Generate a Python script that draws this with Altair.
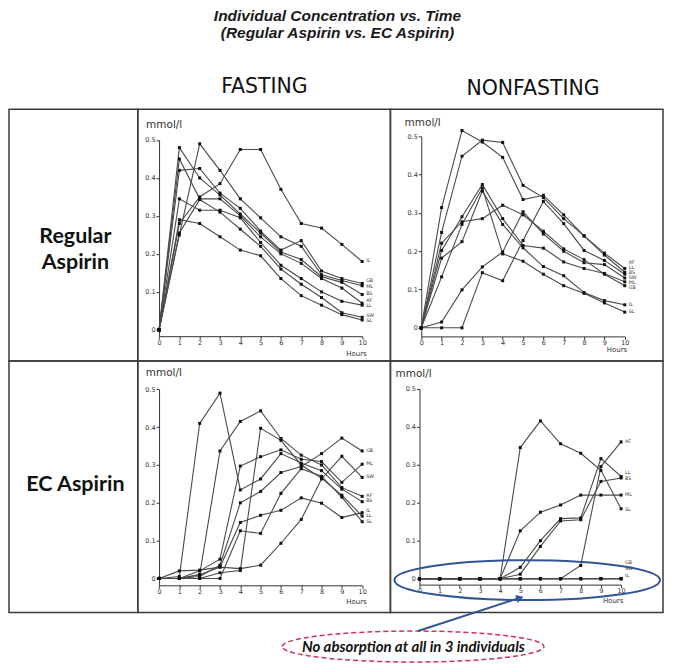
import altair as alt
import pandas as pd

HOURS = list(range(11))
TITLE_LINES = ["Individual Concentration vs. Time", "(Regular Aspirin vs. EC Aspirin)"]
COLUMN_HEADERS = ["FASTING", "NONFASTING"]
ROW_HEADERS = ["Regular\nAspirin", "EC Aspirin"]
Y_TICKS = [0, 0.1, 0.2, 0.3, 0.4, 0.5]
Y_TITLE = "mmol/l"
X_TITLE = "Hours"
NOTE = "No absorption at all in 3 individuals"

# Regular aspirin, fasting (mmol/l at hours 0..10)
REG_FAST = {
    "IL": [0, .28, .35, .385, .475, .475, .37, .28, .268, .225, .18],
    "GB": [0, .42, .425, .36, .32, .26, .21, .235, .155, .135, .122],
    "ML": [0, .25, .49, .42, .345, .295, .245, .22, .145, .13, .116],
    "BS": [0, .48, .40, .355, .305, .255, .205, .185, .14, .125, .093],
    "AF": [0, .45, .345, .345, .30, .245, .20, .175, .135, .11, .07],
    "LL": [0, .345, .315, .315, .295, .23, .17, .135, .10, .075, .065],
    "SW": [0, .255, .343, .31, .265, .22, .16, .12, .085, .045, .033],
    "SL": [0, .29, .28, .245, .21, .195, .135, .09, .065, .04, .026],
}
REG_FAST_LABELS = {"IL": .18, "GB": .128, "ML": .114, "BS": .094, "AF": .077,
                   "LL": .062, "SW": .037, "SL": .023}

# Regular aspirin, nonfasting
REG_NONFAST = {
    "AF": [0, .314, .515, .485, .445, .335, .346, .295, .24, .195, .155],
    "LL": [0, .249, .448, .49, .484, .372, .34, .285, .24, .19, .145],
    "BS": [0, 0, 0, .144, .123, .228, .33, .272, .202, .176, .14],
    "SW": [0, .015, .099, .159, .198, .303, .245, .20, .17, .165, .13],
    "ML": [0, .202, .29, .374, .285, .215, .208, .172, .155, .142, .12],
    "GB": [0, .221, .277, .285, .32, .295, .252, .206, .178, .14, .11],
    "IL": [0, .182, .225, .357, .27, .209, .16, .136, .092, .071, .06],
    "SL": [0, .133, .27, .365, .193, .174, .14, .11, .09, .065, .041],
}
REG_NONFAST_LABELS = {"AF": .170, "LL": .157, "BS": .144, "SW": .131, "ML": .118,
                      "GB": .105, "IL": .06, "SL": .04}

# Enteric-coated aspirin, fasting
EC_FAST = {
    "BS": [0, .005, .41, .49, .234, .263, .33, .305, .285, .236, .203],
    "AF": [0, 0, .01, .337, .415, .443, .37, .326, .30, .24, .217],
    "ML": [0, 0, .02, .051, .297, .322, .34, .315, .309, .254, .302],
    "GB": [0, 0, .005, .035, .20, .23, .28, .296, .33, .371, .337],
    "IL": [0, 0, .01, .03, .148, .167, .18, .213, .199, .161, .174],
    "LL": [0, 0, 0, .015, .021, .397, .365, .30, .265, .22, .165],
    "SL": [0, 0, 0, 0, .126, .119, .225, .29, .27, .215, .15],
    "SW": [0, .02, .022, .03, .026, .035, .093, .156, .263, .323, .267],
}
EC_FAST_LABELS = {"GB": .337, "ML": .302, "SW": .267, "AF": .219, "BS": .204,
                  "IL": .179, "LL": .164, "SL": .149}

# Enteric-coated aspirin, nonfasting
EC_NONFAST = {
    "AF": [0, 0, 0, 0, 0, 0, 0, 0, .035, .295, .36],
    "LL": [0, 0, 0, 0, 0, .03, .10, .158, .16, .316, .269],
    "BS": [0, 0, 0, 0, 0, .012, .085, .152, .155, .256, .265],
    "ML": [0, 0, 0, 0, 0, .126, .175, .194, .22, .22, .22],
    "SL": [0, 0, 0, 0, 0, .345, .415, .355, .33, .285, .184],
    "GB": [0, 0, 0, 0, 0, 0, 0, 0, 0, 0, 0],
    "SW": [0, 0, 0, 0, 0, 0, 0, 0, 0, 0, 0],
    "IL": [0, 0, 0, 0, 0, 0, 0, 0, 0, 0, 0],
}
EC_NONFAST_LABELS = {"AF": .36, "LL": .277, "BS": .261, "ML": .22, "SL": .182,
                     "GB": .042, "SW": .025, "IL": .007}

INK = "#333333"
BORDER = "#3a3a3a"
LINE_C = "#4a4a4a"
BLUE = "#2f5597"
RED = "#cc3355"
SMALL_FONT = "DejaVu Sans"

LABEL_W, FAST_W, NONFAST_W = 129, 253, 273
ROW_H = 252
HEADER_H, FOOTER_H = 98, 52
NO_STROKE = alt.ViewBackground(stroke="transparent")
CELL = alt.ViewBackground(stroke=BORDER, strokeWidth=1.5)


def ellipse_path(r):
    k = 0.5523
    return (f"M -1 0 C -1 {-k*r:.4f} {-k:.4f} {-r:.4f} 0 {-r:.4f} "
            f"C {k:.4f} {-r:.4f} 1 {-k*r:.4f} 1 0 "
            f"C 1 {k*r:.4f} {k:.4f} {r:.4f} 0 {r:.4f} "
            f"C {-k:.4f} {r:.4f} -1 {k*r:.4f} -1 0 Z")


def long_df(series):
    rows = []
    for name, vals in series.items():
        for h, v in zip(HOURS, vals):
            rows.append({"subject": name, "hour": h, "conc": v})
    return pd.DataFrame(rows)


def label_df(labels):
    return pd.DataFrame({"subject": list(labels.keys()),
                         "hour": [HOURS[-1]] * len(labels),
                         "conc": list(labels.values())})


def one(text_value):
    return pd.DataFrame({"t": [text_value]})


def text_layer(t, x, y, **kw):
    return alt.Chart(one(t)).mark_text(**kw).encode(
        text="t:N", x=alt.value(x), y=alt.value(y))


def blank(w, h):
    return text_layer(" ", 1, 1, fontSize=1).properties(width=w, height=h, view=NO_STROKE)


def panel(series, labels, g, extra=()):
    ymin = -(g["xax"] - g["y0"]) * 0.5 / (g["y0"] - g["y05"])
    xs = alt.Scale(domain=[0, 10], range=[g["x0"], g["x10"]], nice=False, zero=False)
    ys = alt.Scale(domain=[ymin, 0.5], range=[g["xax"], g["y05"]], nice=False, zero=False)
    xaxis = alt.Axis(values=HOURS, offset=g["xax"] - ROW_H, grid=False,
                     domainColor=INK, domainWidth=1, tickColor=INK, tickSize=3,
                     labelFont=SMALL_FONT, labelFontSize=6.5, labelColor=INK,
                     labelPadding=0, labelFlush=False, labelOverlap=False,
                     title=X_TITLE, titleFont=SMALL_FONT, titleFontSize=7,
                     titleFontWeight="normal", titleColor=INK,
                     titleX=g["hx"], titleY=g["hy"] - g["xax"],
                     titleAlign="center", titleBaseline="middle")
    yaxis = alt.Axis(values=Y_TICKS, offset=-g["x0"], grid=False,
                     domainColor=INK, domainWidth=1, tickColor=INK, tickSize=3,
                     labelFont=SMALL_FONT, labelFontSize=6.5, labelColor=INK,
                     labelPadding=1, labelFlush=False, labelOverlap=False,
                     labelExpr="datum.value == 0 ? '0' : format(datum.value, '.1f')",
                     title=Y_TITLE, titleFont=SMALL_FONT, titleFontSize=10.5,
                     titleFontWeight="normal", titleColor=INK, titleAngle=0,
                     titleX=g["mx"] - g["x0"], titleY=g["my"],
                     titleAlign="left", titleBaseline="middle")
    X = alt.X("hour:Q", scale=xs, axis=xaxis)
    Y = alt.Y("conc:Q", scale=ys, axis=yaxis)
    data = long_df(series)
    lines = alt.Chart(data).mark_line(color=LINE_C, strokeWidth=1.1).encode(
        x=X, y=Y, detail="subject:N")
    pts = alt.Chart(data).mark_square(size=9, color="#111111", opacity=1).encode(x=X, y=Y)
    labs = alt.Chart(label_df(labels)).mark_text(
        align="left", baseline="middle", dx=4, fontSize=4.8, font=SMALL_FONT,
        color=INK).encode(x=X, y=Y, text="subject:N")
    return alt.layer(lines, pts, labs, *extra).properties(
        width=g["w"], height=ROW_H, view=CELL)


def row_label(text_value, y):
    return text_layer(text_value, LABEL_W / 2 + 2, y, font="Lato", fontWeight="bold",
                      fontSize=21.5, lineBreak="\n", lineHeight=27, color="#111111",
                      align="center", baseline="middle").properties(
        width=LABEL_W, height=ROW_H, view=CELL)


G11 = dict(w=FAST_W, x0=21.3, x10=224.7, y0=220.8, y05=30.7, xax=227.2,
           mx=7.8, my=14.9, hx=218.5, hy=244.5)
G12 = dict(w=NONFAST_W, x0=30.9, x10=234.7, y0=218.8, y05=27.0, xax=227.4,
           mx=13.7, my=12.9, hx=226.4, hy=240.6)
G21 = dict(w=FAST_W, x0=21.3, x10=224.7, y0=217.8, y05=28.4, xax=224.7,
           mx=7.5, my=11.2, hx=218.5, hy=240.6)
G22 = dict(w=NONFAST_W, x0=29.1, x10=231.0, y0=218.1, y05=27.7, xax=224.0,
           mx=4.6, my=12.9, hx=222.5, hy=239.6)

blue_w, blue_h = 266.0, 40.0
blue_ellipse = alt.Chart(one("")).mark_point(
    shape=ellipse_path(blue_h / blue_w), size=blue_w ** 2, filled=False,
    stroke=BLUE, strokeWidth=2, opacity=1).encode(x=alt.value(137.0), y=alt.value(219.5))

# header row: title + column headers (positions relative to each grid cell)
head_fast = alt.layer(
    text_layer(TITLE_LINES[0], 200, 5, font="Liberation Sans", fontSize=15.5,
               fontWeight="bold", fontStyle="italic", color="#1a1a1a"),
    text_layer(TITLE_LINES[1], 200, 22, font="Liberation Sans", fontSize=15.5,
               fontWeight="bold", fontStyle="italic", color="#1a1a1a"),
    text_layer(COLUMN_HEADERS[0], 126.8, 76, font="DejaVu Sans", fontSize=20.5,
               color="#111111"),
).properties(width=FAST_W, height=HEADER_H, view=NO_STROKE)
head_nonfast = text_layer(COLUMN_HEADERS[1], 142.8, 78, font="DejaVu Sans",
                          fontSize=20.5, color="#111111").properties(
    width=NONFAST_W, height=HEADER_H, view=NO_STROKE)

red_w, red_h = 262.0, 31.0
foot_fast = alt.layer(
    alt.Chart(one("")).mark_point(
        shape=ellipse_path(red_h / red_w), size=red_w ** 2, filled=False,
        stroke=RED, strokeWidth=1.5, strokeDash=[5, 3], opacity=1).encode(
        x=alt.value(275.7), y=alt.value(34)),
    text_layer(NOTE, 276, 34, font="Lato", fontSize=15, fontWeight="bold",
               fontStyle="italic", color="#111111"),
    alt.Chart(one("")).mark_rule(color=BLUE, strokeWidth=2).encode(
        x=alt.value(280.6), y=alt.value(18.5), x2=alt.value(382.7), y2=alt.value(-14.8)),
    alt.Chart(one("")).mark_point(shape="triangle-up", filled=True, size=70, angle=72,
                                  color=BLUE, opacity=1).encode(
        x=alt.value(382.7), y=alt.value(-14.8)),
).properties(width=FAST_W, height=FOOTER_H, view=NO_STROKE)

cells = [
    blank(LABEL_W, HEADER_H), head_fast, head_nonfast,
    row_label(ROW_HEADERS[0], 127.4),
    panel(REG_FAST, REG_FAST_LABELS, G11),
    panel(REG_NONFAST, REG_NONFAST_LABELS, G12),
    row_label(ROW_HEADERS[1], 124.7),
    panel(EC_FAST, EC_FAST_LABELS, G21),
    panel(EC_NONFAST, EC_NONFAST_LABELS, G22, extra=(blue_ellipse,)),
    blank(LABEL_W, FOOTER_H), foot_fast, blank(NONFAST_W, FOOTER_H),
]

chart = alt.concat(*cells, columns=3, spacing=0, bounds="flush").properties(
    padding=0, background="white")

chart.save("out.html", embed_options={"renderer": "svg", "actions": False})
